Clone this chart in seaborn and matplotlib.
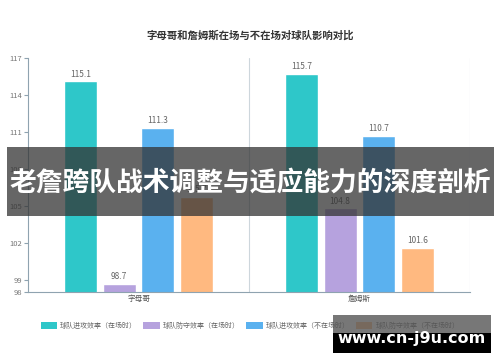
import pandas as pd
import matplotlib.pyplot as plt
import seaborn as sns
from matplotlib.patches import Rectangle, Patch

# data
players = ['字母哥', '詹姆斯']
metrics = ['球队进攻效率（在场时）', '球队防守效率（在场时）',
           '球队进攻效率（不在场时）', '球队防守效率（不在场时）']
off_on = [115.1, 115.7]
def_on = [98.7, 104.8]
off_off = [111.3, 110.7]
def_off = [105.7, 101.6]
colors = ['#2ec7c9', '#b6a2de', '#5ab1ef', '#ffb980']

rows = []
for series, name in zip([off_on, def_on, off_off, def_off], metrics):
    for p, v in zip(players, series):
        rows.append({'player': p, 'metric': name, 'value': v})
df = pd.DataFrame(rows)

sns.set_style('white')
plt.rcParams['font.family'] = ['Noto Sans CJK SC', 'DejaVu Sans']

fig = plt.figure(figsize=(5, 3.62), dpi=100)
ax = fig.add_axes([0.056, 0.193, 0.884, 0.647])

sns.barplot(data=df, x='player', y='value', hue='metric', hue_order=metrics,
            palette=colors, width=0.7, gap=0.15, ax=ax, legend=False,
            saturation=1, errorbar=None)

for c in ax.containers:
    ax.bar_label(c, fmt='%.1f', padding=2, fontsize=6, color='#666666')

ax.set_ylim(98, 117)
ax.set_xlim(-0.5, 1.5)
ax.set_yticks([98, 99, 102, 105, 108, 111, 114, 117])
ax.tick_params(axis='y', labelsize=5.5, labelcolor='#777777', length=3,
               color='#8fa3b0', width=0.8, left=True, pad=1)
ax.tick_params(axis='x', labelsize=5.5, labelcolor='#555555', length=0, pad=2)
ax.set_xlabel('')
ax.set_ylabel('')
for x in [0.5, 1.5]:
    ax.axvline(x, color='#cdd6dc', lw=0.8, zorder=0)
for s in ['top', 'right']:
    ax.spines[s].set_visible(False)
for s in ['left', 'bottom']:
    ax.spines[s].set_color('#8fa3b0')
    ax.spines[s].set_linewidth(0.8)

fig.text(0.5, 0.903, '字母哥和詹姆斯在场与不在场对球队影响对比', ha='center',
         va='center', fontsize=7.5, fontweight='bold', color='#333333')

handles = [Patch(facecolor=c, edgecolor='none') for c in colors]
fig.legend(handles, metrics, loc='center', bbox_to_anchor=(0.5, 0.099), ncol=4,
           frameon=False, fontsize=5, labelcolor='#666666', handlelength=2.4,
           handleheight=1.1, handletextpad=0.4, columnspacing=0.9)

# overlay banner
fig.patches.append(Rectangle((0.014, 0.403), 0.974, 0.191, transform=fig.transFigure,
                             facecolor='#333333', alpha=0.75, edgecolor='none', zorder=10))
fig.text(0.5, 0.495, '老詹跨队战术调整与适应能力的深度剖析', ha='center', va='center',
         fontsize=19.3, fontweight='bold', color='white', zorder=11)

# watermark
fig.patches.append(Rectangle((0.666, 0.080), 0.316, 0.050, transform=fig.transFigure,
                             facecolor='#555555', alpha=0.8, edgecolor='none', zorder=10))
fig.patches.append(Rectangle((0.666, 0.025), 0.316, 0.055, transform=fig.transFigure,
                             facecolor='black', edgecolor='none', zorder=10))
fig.text(0.824, 0.066, 'www.cn-j9u.com', ha='center', va='center', fontsize=11.5,
         fontweight='bold', color='white', zorder=11, family='DejaVu Sans')

fig.savefig('out.png', dpi=100)
